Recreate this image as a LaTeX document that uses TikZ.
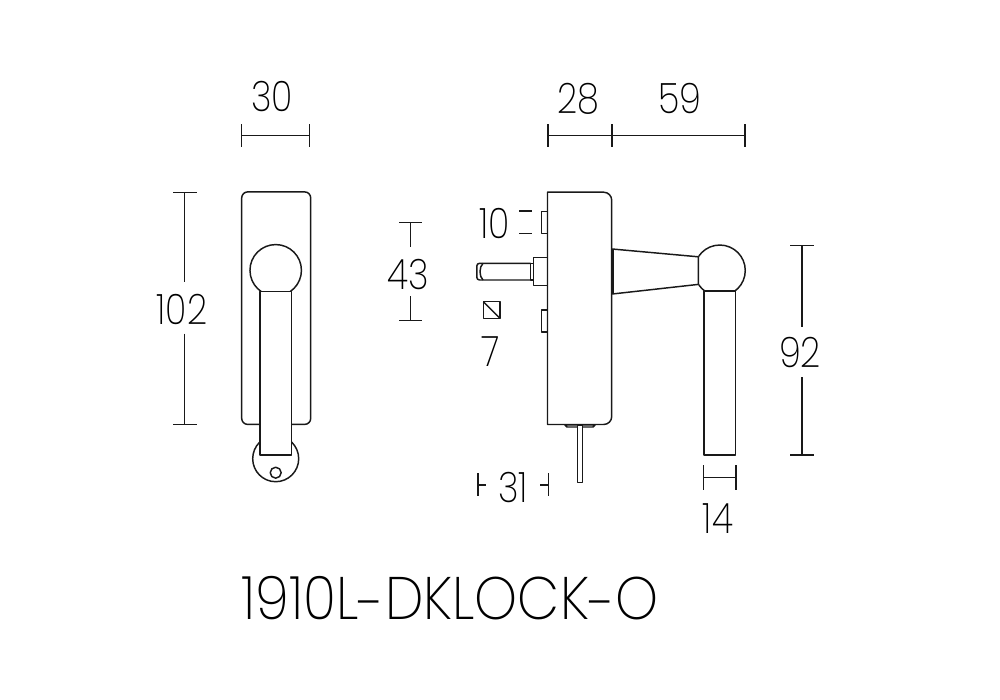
\documentclass[tikz,border=0pt]{standalone}
\usepackage{fontspec}
\setmainfont{Poppins ExtraLight}
\newfontfamily\dimfont[FakeStretch=0.84]{Poppins ExtraLight}
\newfontfamily\titlefont[FakeStretch=0.91]{Poppins ExtraLight}
\tikzset{
 part/.style={draw=black!90,line width=1.1pt,line join=round},
 dimline/.style={draw=black!90,line width=1.15pt},
 dimtext/.style={inner sep=0pt,font=\dimfont\fontsize{31.5}{32}\selectfont,text=black},
 titletext/.style={inner sep=0pt,font=\titlefont\fontsize{45}{45}\selectfont,text=black}
}
\begin{document}
\begin{tikzpicture}[x=0.75pt,y=-0.75pt]
\useasboundingbox[fill=white] (0,0) rectangle (1000,700);
% front view
\draw[part] (275.7,458.7) circle[radius=17.25pt];
\draw[part] (275.7,472.7) circle[radius=4.1pt];
\draw[part,fill=white,rounded corners=4.5pt] (241.7,191.9) rectangle (310.7,424.4);
\draw[part] (275.7,270.3) circle[radius=19.3pt];
\draw[part,fill=white] (260,291.3) rectangle (291.3,455);
% side view
\draw[part,fill=white,rounded corners=6pt] (547.5,424.5) [sharp corners] -- (547.5,192.2) [rounded corners=6pt] -- (611.7,192.2) -- (611.7,424.5) [sharp corners] -- cycle;
\draw[part] (547.5,211.7) -- (541.7,211.7) -- (541.7,233.7) -- (547.5,233.7);
\draw[part] (547.5,310) -- (541.7,310) -- (541.7,332) -- (547.5,332);
\draw[part] (547.5,257.3) -- (533.3,257.3) -- (533.3,285.7) -- (547.5,285.7);
\draw[part] (533.3,263.3) -- (530.7,263.3) -- (530.7,280) -- (533.3,280);
\draw[part,rounded corners=2pt] (530.7,263.3) -- (476.8,263.3) -- (476.8,280) -- (530.7,280);
\draw[part] (483,263.3) .. controls (479,267) and (479,276.5) .. (483,280);
\draw[part] (483.3,301.7) rectangle (500,318.3);
\draw[part] (483.3,301.7) -- (500,318.3);
% latch
\draw[part] (565,425) -- (595,425) -- (593,427) -- (567,427) -- cycle;
\draw[part,fill=white] (577.7,425) rectangle (582.3,482.3);
% handle
\draw[part,fill=white] (612.3,249) -- (698.3,256.8) -- (698.3,284.4) -- (612.3,294) -- cycle;
\draw[part] (613.6,249.2) -- (613.6,293.8);
\begin{scope}
\clip (698.3,240) rectangle (750,291);
\draw[part] (719.8,270.5) circle[radius=19.1pt];
\end{scope}
\draw[part,fill=white] (704,291) rectangle (735.7,455);
% dimensions
\draw[dimline] (241.7,124) -- (241.7,147);
\draw[dimline] (309.5,124) -- (309.5,147);
\draw[dimline] (241.7,135.5) -- (309.5,135.5);
\draw[dimline] (548,124) -- (548,147);
\draw[dimline] (612,124) -- (612,147);
\draw[dimline] (745,124) -- (745,147);
\draw[dimline] (548,135.5) -- (745,135.5);
\draw[dimline] (173,192.3) -- (197,192.3);
\draw[dimline] (173,424.3) -- (197,424.3);
\draw[dimline] (184.7,192.3) -- (184.7,282);
\draw[dimline] (184.7,333.5) -- (184.7,424.3);
\draw[dimline] (399,222.5) -- (422,222.5);
\draw[dimline] (399,320.5) -- (422,320.5);
\draw[dimline] (410.5,222.5) -- (410.5,247);
\draw[dimline] (410.5,296) -- (410.5,320.5);
\draw[dimline] (519.3,211) -- (532,211);
\draw[dimline] (519.3,233.3) -- (532,233.3);
\draw[dimline] (478,473) -- (478,496);
\draw[dimline] (478,485) -- (486,485);
\draw[dimline] (548.3,473) -- (548.3,496);
\draw[dimline] (540,485) -- (548.3,485);
\draw[dimline] (790,245.5) -- (814,245.5);
\draw[dimline] (790,455) -- (814,455);
\draw[dimline] (802,245.5) -- (802,327);
\draw[dimline] (802,377) -- (802,455);
\draw[dimline] (703.7,465) -- (703.7,490);
\draw[dimline] (736,465) -- (736,490);
\draw[dimline] (703.7,477.5) -- (736,477.5);
% labels
\node[dimtext] (d30) at (272,97) {30};
\node[dimtext] (d28) at (578,99) {28};
\node[dimtext] (d59) at (680,99) {59};
\node[dimtext] (d102) at (182,309) {102};
\node[dimtext] (d43) at (408,275) {43};
\node[dimtext] (d10) at (495,224) {10};
\node[dimtext] (d7) at (491,352) {7};
\node[dimtext] (d31) at (513,487) {31};
\node[dimtext] (d92) at (800,353) {92};
\node[dimtext] (d14) at (718,519) {14};
\node[titletext] (title) at (450,600.5) {1910L\raisebox{-4pt}{-}DKLOCK\raisebox{-4pt}{-}O};
\end{tikzpicture}
\end{document}
